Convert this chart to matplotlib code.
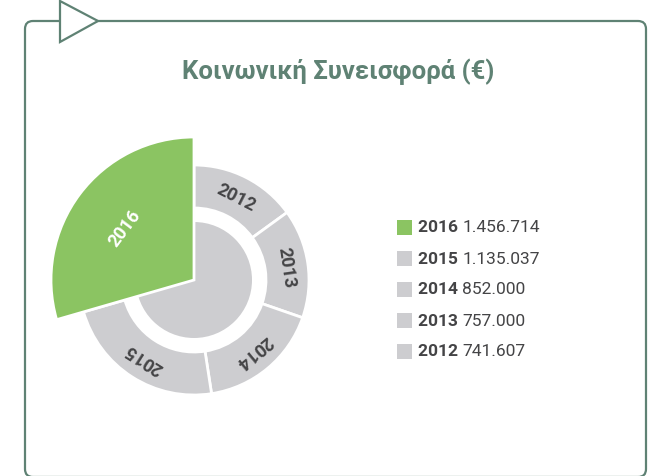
import numpy as np
import matplotlib
matplotlib.use("Agg")
from matplotlib import pyplot as plt, patches

# Data
years = ["2016", "2015", "2014", "2013", "2012"]
values = [1456714, 1135037, 852000, 757000, 741607]
value_labels = ["1.456.714", "1.135.037", "852.000", "757.000", "741.607"]
title = "Κοινωνική Συνεισφορά (€)"

frame_color = "#5f8274"
green = "#8bc462"
gray = "#cdcdd0"
text_dark = "#444446"

W, H = 649, 477
fig = plt.figure(figsize=(W / 100, H / 100), dpi=100)
ax = fig.add_axes([0, 0, 1, 1])
ax.set_xlim(0, W)
ax.set_ylim(0, H)
ax.set_aspect("equal")
ax.axis("off")


def py(y):
    # pixel row (from top) -> data y
    return H - y


# Frame with a rounded border and the little arrow on top
frame = patches.FancyBboxPatch((25, py(478)), 646 - 25, 478 - 22,
                               boxstyle="round,pad=0,rounding_size=8",
                               linewidth=1.6, edgecolor=frame_color,
                               facecolor="none", zorder=1)
ax.add_patch(frame)
arrow = patches.Polygon([(60, py(2)), (60, py(43)), (98, py(22))],
                        closed=True, facecolor="white",
                        edgecolor=frame_color, linewidth=1.6, zorder=2)
ax.add_patch(arrow)

ax.text(338, py(72), title, ha="center", va="center", fontsize=18.5,
        fontweight="bold", color=frame_color, family="Roboto")

# Radial chart
cx, cy = 194, py(281)
r_core, r_in, r_out, r_big = 58, 72, 115, 143
total = float(sum(values))

ax.add_patch(patches.Circle((cx, cy), r_core, facecolor=gray,
                            edgecolor="none", zorder=3))

# segments go clockwise from 12 o'clock starting with the oldest year
start = 90.0
for yr, v in zip(years[::-1], values[::-1]):
    span = 360.0 * v / total
    t2 = start
    t1 = start - span
    is_last = yr == years[0]
    if is_last:
        w = patches.Wedge((cx, cy), r_big, t1, t2, facecolor=green,
                          edgecolor="white", linewidth=2, zorder=5)
    else:
        w = patches.Wedge((cx, cy), r_out, t1, t2, width=r_out - r_in,
                          facecolor=gray, edgecolor="white",
                          linewidth=2, zorder=4)
    ax.add_patch(w)
    mid = np.deg2rad((t1 + t2) / 2)
    rl = 87 if is_last else 93
    lx = cx + rl * np.cos(mid)
    ly = cy + rl * np.sin(mid)
    rot = np.rad2deg(mid) - 90
    ax.text(lx, ly, yr, ha="center", va="center", rotation=rot,
            rotation_mode="anchor", fontsize=13, fontweight="bold",
            color="white" if is_last else text_dark, family="Roboto",
            zorder=6)
    start = t1

# Legend
for i, (yr, lab) in enumerate(zip(years, value_labels)):
    yrow = py(228 + i * 31)
    ax.add_patch(patches.Rectangle((397, yrow - 7.5), 15, 15,
                                   facecolor=green if i == 0 else gray,
                                   edgecolor="none"))
    t = ax.text(418, yrow, yr + " ", ha="left", va="center", fontsize=12.5,
                fontweight="bold", color=text_dark, family="Roboto")
    fig.canvas.draw()
    bb = t.get_window_extent()
    ax.text(bb.x1, yrow, lab, ha="left", va="center", fontsize=12.5,
            color=text_dark, family="Roboto")

fig.savefig("out.png", dpi=100)
